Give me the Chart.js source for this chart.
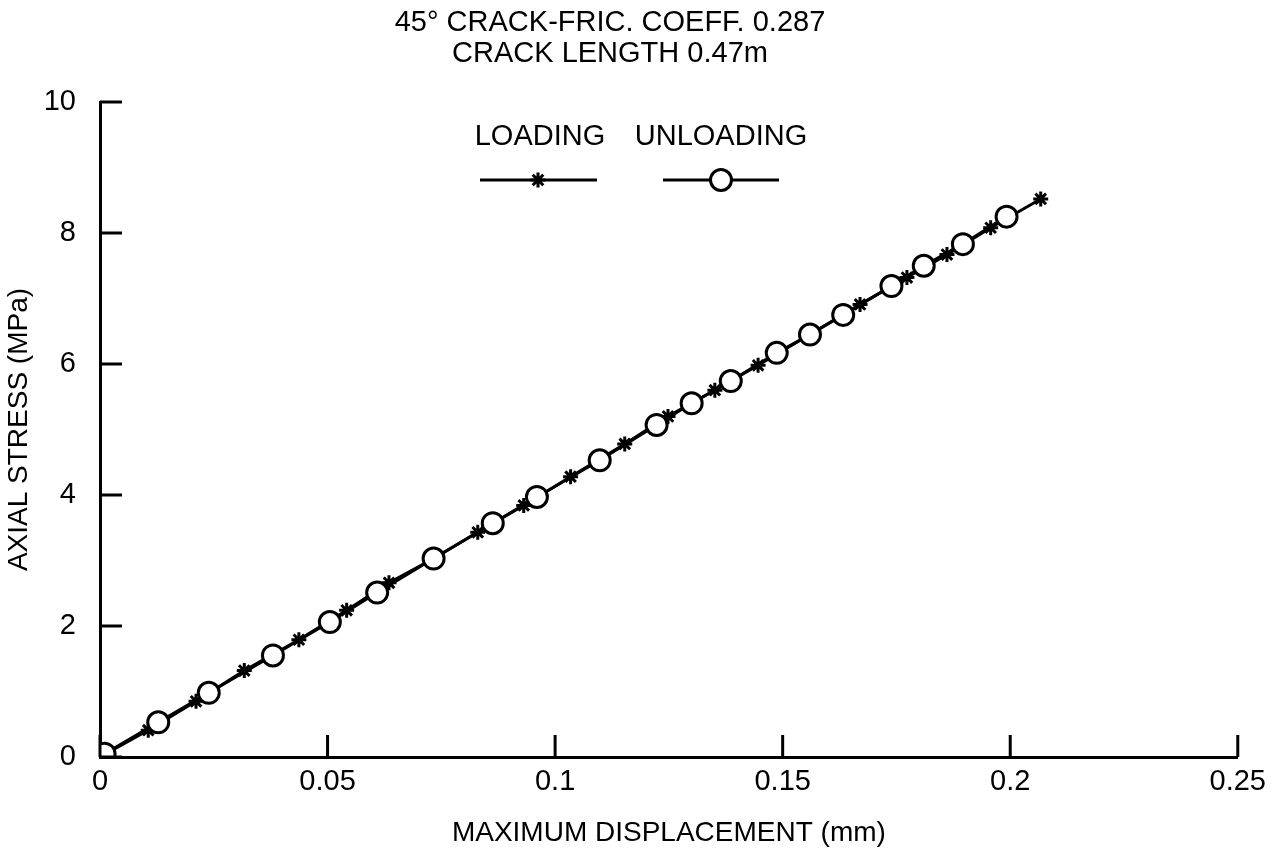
<!DOCTYPE html>
<html>
<head>
<meta charset="utf-8">
<title>Axial stress vs maximum displacement</title>
<script src="https://cdn.jsdelivr.net/npm/chart.js@4.4.0/dist/chart.umd.min.js"></script>
<style>
  html, body { margin: 0; padding: 0; background: #fff; }
  #wrap { width: 1274px; height: 860px; position: relative; }
</style>
</head>
<body>
<div id="wrap"><canvas id="stressChart"></canvas></div>
<script>
// values
const loadingDisp = [0, 0.0106, 0.0211, 0.0317, 0.0437, 0.0542, 0.0635, 0.0733, 0.0830, 0.0931, 0.1034, 0.1153, 0.1248, 0.1351, 0.1446, 0.1560, 0.1670, 0.1773, 0.1861, 0.1957, 0.2067];
const loadingStress = [0, 0.41, 0.85, 1.32, 1.79, 2.24, 2.66, 3.03, 3.43, 3.84, 4.28, 4.78, 5.20, 5.60, 5.98, 6.45, 6.91, 7.32, 7.67, 8.08, 8.52];
const unloadingDisp = [0.001, 0.0128, 0.0239, 0.0380, 0.0505, 0.0609, 0.0733, 0.0863, 0.0960, 0.1098, 0.1223, 0.1300, 0.1386, 0.1487, 0.1560, 0.1633, 0.1739, 0.1810, 0.1896, 0.1992];
const unloadingStress = [0.05, 0.53, 0.98, 1.55, 2.06, 2.51, 3.03, 3.57, 3.97, 4.53, 5.07, 5.40, 5.74, 6.17, 6.45, 6.75, 7.19, 7.50, 7.83, 8.25];

const xTicks = [0, 0.05, 0.1, 0.15, 0.2, 0.25];
const yTicks = [0, 2, 4, 6, 8, 10];
const titleLines = ["45\u00B0 CRACK-FRIC. COEFF. 0.287", "CRACK LENGTH 0.47m"];
const seriesNames = ["LOADING", "UNLOADING"];

const FONT = "'Liberation Sans', Arial, Helvetica, sans-serif";
const INK = "#000";

function toPoints(xs, ys) {
    return xs.map((x, i) => ({ x: x, y: ys[i] }));
}

// inward tick marks, the title lines and the little legend up top
const decorPlugin = {
    id: "decor",
    afterDraw(chart) {
        const ctx = chart.ctx;
        const xs = chart.scales.x;
        const ys = chart.scales.y;
        const area = chart.chartArea;
        ctx.save();
        ctx.strokeStyle = INK;
        ctx.lineWidth = 3;
        ctx.beginPath();
        xTicks.forEach(v => {
            const px = xs.getPixelForValue(v);
            ctx.moveTo(px, area.bottom);
            ctx.lineTo(px, area.bottom - 22);
        });
        yTicks.forEach(v => {
            const py = ys.getPixelForValue(v);
            ctx.moveTo(area.left, py);
            ctx.lineTo(area.left + 22, py);
        });
        ctx.stroke();

        ctx.fillStyle = INK;
        ctx.textAlign = "center";
        ctx.textBaseline = "middle";
        ctx.font = "29px " + FONT;
        ctx.fillText(titleLines[0], 610, 23);
        ctx.fillText(titleLines[1], 610, 54);

        // legend
        ctx.fillText(seriesNames[0], 540, 137);
        ctx.fillText(seriesNames[1], 721, 137);
        ctx.lineWidth = 3;
        ctx.beginPath();
        ctx.moveTo(480, 180); ctx.lineTo(597, 180);
        ctx.moveTo(663, 180); ctx.lineTo(779, 180);
        ctx.stroke();
        const load = chart.data.datasets[1];
        const unload = chart.data.datasets[0];
        ctx.lineWidth = load.pointBorderWidth;
        Chart.helpers.drawPoint(ctx, { pointStyle: load.pointStyle, radius: load.pointRadius, borderWidth: load.pointBorderWidth }, 538, 180);
        ctx.fillStyle = "#fff";
        ctx.lineWidth = unload.pointBorderWidth;
        Chart.helpers.drawPoint(ctx, { pointStyle: unload.pointStyle, radius: unload.pointRadius, borderWidth: unload.pointBorderWidth }, 721, 180);
        ctx.restore();
    }
};

const ctx = document.getElementById("stressChart").getContext("2d");
new Chart(ctx, {
    type: "line",
    data: {
        // unloading first so its open circles sit on top of the loading stars
        datasets: [
            {
                label: seriesNames[1],
                data: toPoints(unloadingDisp, unloadingStress),
                borderColor: INK,
                borderWidth: 3,
                pointStyle: "circle",
                pointRadius: 10.5,
                pointBorderWidth: 3,
                pointBorderColor: INK,
                pointBackgroundColor: "#fff",
                tension: 0,
                fill: false
            },
            {
                label: seriesNames[0],
                data: toPoints(loadingDisp, loadingStress),
                borderColor: INK,
                borderWidth: 3,
                pointStyle: "star",
                pointRadius: 7.5,
                pointBorderWidth: 3,
                pointBorderColor: INK,
                pointBackgroundColor: INK,
                tension: 0,
                fill: false
            }
        ]
    },
    options: {
        responsive: true,
        maintainAspectRatio: false,
        animation: false,
        layout: { padding: { left: 0, right: 34, top: 102, bottom: 0 } },
        plugins: {
            legend: { display: false },
            title: { display: false },
            tooltip: { enabled: false }
        },
        scales: {
            x: {
                type: "linear",
                min: 0,
                max: 0.25,
                afterFit: s => { s.height = 103; },
                afterBuildTicks: s => { s.ticks = xTicks.map(v => ({ value: v })); },
                grid: { display: true, drawOnChartArea: false, drawTicks: false },
                border: { display: true, color: INK, width: 3 },
                ticks: {
                    color: INK,
                    padding: 8,
                    maxRotation: 0,
                    font: { family: FONT, size: 29 },
                    callback: v => String(Number(v.toFixed(2)))
                },
                title: {
                    display: true,
                    text: "MAXIMUM DISPLACEMENT (mm)",
                    color: INK,
                    font: { family: FONT, size: 28 },
                    padding: { top: 0, bottom: 10 }
                }
            },
            y: {
                type: "linear",
                min: 0,
                max: 10,
                afterFit: s => { s.width = 100; },
                afterBuildTicks: s => { s.ticks = yTicks.map(v => ({ value: v })); },
                grid: { display: true, drawOnChartArea: false, drawTicks: false },
                border: { display: true, color: INK, width: 3 },
                ticks: {
                    color: INK,
                    padding: 24,
                    font: { family: FONT, size: 29 }
                },
                title: {
                    display: true,
                    text: "AXIAL STRESS (MPa)",
                    color: INK,
                    font: { family: FONT, size: 28 },
                    padding: { top: 2, bottom: 0 }
                }
            }
        }
    },
    plugins: [decorPlugin]
});
</script>
</body>
</html>
